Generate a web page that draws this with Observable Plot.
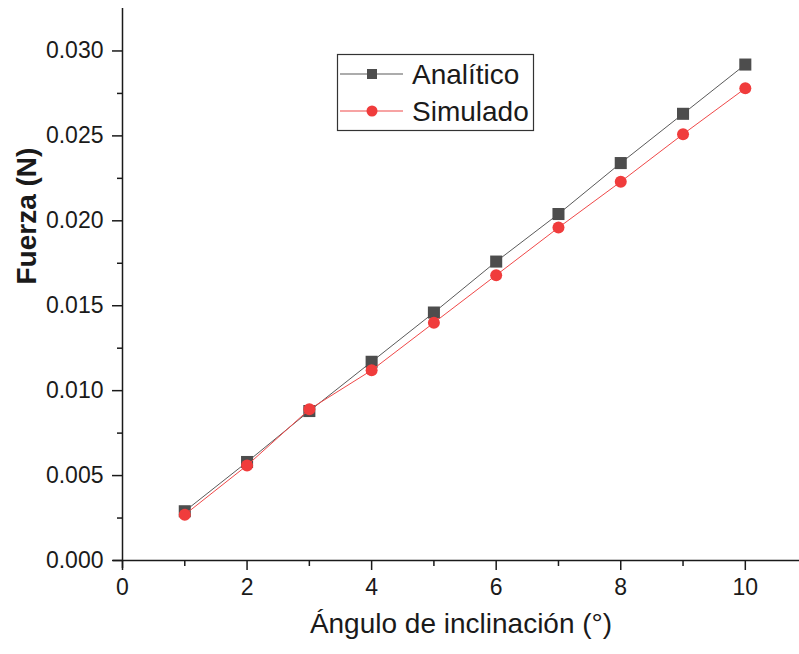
<!DOCTYPE html>
<html>
<head>
<meta charset="utf-8">
<script src="https://cdn.jsdelivr.net/npm/d3@7"></script>
<script src="https://cdn.jsdelivr.net/npm/@observablehq/plot@0.6"></script>
<style>
  body { margin: 0; background: #fff; }
  #chart svg { display: block; }
</style>
</head>
<body>
<div id="chart"></div>
<script>
// Inclination angle (degrees) and measured force (N)
const angles = [1, 2, 3, 4, 5, 6, 7, 8, 9, 10];
const analitico = [0.0029, 0.0058, 0.0088, 0.0117, 0.0146, 0.0176, 0.0204, 0.0234, 0.0263, 0.0292];
const simulado = [0.0027, 0.0056, 0.0089, 0.0112, 0.0140, 0.0168, 0.0196, 0.0223, 0.0251, 0.0278];

const seriesNames = ["Analítico", "Simulado"];
const seriesColors = ["#4d4d4d", "#f03c3c"];
const lineColors = ["#5a5a5a", "#f04848"];

const xTicks = [0, 2, 4, 6, 8, 10];
const xMinorTicks = [1, 3, 5, 7, 9];
const yTicks = [0, 0.005, 0.010, 0.015, 0.020, 0.025, 0.030];
const yMinorTicks = [0.0025, 0.0075, 0.0125, 0.0175, 0.0225, 0.0275];

const xTitle = "Ángulo de inclinación (°)";
const yTitle = "Fuerza (N)";

const rows = [
  ...angles.map((a, i) => ({angle: a, force: analitico[i], serie: seriesNames[0]})),
  ...angles.map((a, i) => ({angle: a, force: simulado[i], serie: seriesNames[1]}))
];
const bySerie = name => rows.filter(d => d.serie === name);

const font = "'Liberation Sans', Arial, sans-serif";
const ink = "#1a1a1a";

const chart = Plot.plot({
  width: 799,
  height: 654,
  marginLeft: 122,
  marginRight: 0,
  marginTop: 8,
  marginBottom: 94,
  style: {fontFamily: font, fontSize: "23px", color: ink, background: "#fff"},
  x: {domain: [0, 10.87]},
  y: {domain: [0, 0.0325]},
  marks: [
    // axes
    Plot.axisY(yTicks, {tickSize: 10, tickPadding: 9, tickFormat: d3.format(".3f"), label: null, fontSize: 23, strokeWidth: 1.5, stroke: ink}),
    Plot.axisY(yMinorTicks, {tickSize: 5, text: null, label: null, strokeWidth: 1.5, stroke: ink}),
    Plot.axisX(xTicks, {tickSize: 10, tickPadding: 8, label: null, fontSize: 23, strokeWidth: 1.5, stroke: ink}),
    Plot.axisX(xMinorTicks, {tickSize: 6, text: null, label: null, strokeWidth: 1.5, stroke: ink}),
    Plot.ruleX([0], {insetBottom: -8, stroke: ink, strokeWidth: 1.5}),
    Plot.ruleY([0], {insetLeft: -9, stroke: ink, strokeWidth: 1.5}),
    // series
    Plot.line(bySerie(seriesNames[0]), {x: "angle", y: "force", stroke: lineColors[0], strokeWidth: 1}),
    Plot.dot(bySerie(seriesNames[0]), {x: "angle", y: "force", symbol: "square", r: 6.8, fill: seriesColors[0]}),
    Plot.line(bySerie(seriesNames[1]), {x: "angle", y: "force", stroke: lineColors[1], strokeWidth: 1}),
    Plot.dot(bySerie(seriesNames[1]), {x: "angle", y: "force", symbol: "circle", r: 6, fill: seriesColors[1]}),
    // axis titles
    Plot.text([xTitle], {frameAnchor: "bottom", dy: 72, fontSize: 28, fill: ink}),
    Plot.text([yTitle], {frameAnchor: "left", dx: -95, rotate: -90, fontSize: 28, fontWeight: "bold", fill: ink})
  ]
});

document.getElementById("chart").appendChild(chart);

// Legend box inside the plot area
const svg = d3.select(chart);
const legend = svg.append("g").attr("transform", "translate(337,54)");
legend.append("rect")
  .attr("x", 0.5).attr("y", 0.5).attr("width", 196).attr("height", 76)
  .attr("fill", "#fff").attr("stroke", "#333").attr("stroke-width", 1.2);
seriesNames.forEach((name, i) => {
  const cy = 20 + i * 37;
  const row = legend.append("g").attr("transform", `translate(0,${cy})`);
  row.append("line").attr("x1", 3).attr("x2", 66).attr("y1", 0).attr("y2", 0)
    .attr("stroke", lineColors[i]).attr("stroke-width", 1.2);
  if (i === 0) {
    row.append("rect").attr("x", 30).attr("y", -5).attr("width", 10).attr("height", 10).attr("fill", seriesColors[i]);
  } else {
    row.append("circle").attr("cx", 35).attr("cy", 0).attr("r", 5.5).attr("fill", seriesColors[i]);
  }
  row.append("text").attr("x", 75).attr("y", 0).attr("dy", "0.36em")
    .attr("text-anchor", "start")
    .attr("font-family", font).attr("font-size", 28).attr("fill", ink)
    .text(name);
});
</script>
</body>
</html>
